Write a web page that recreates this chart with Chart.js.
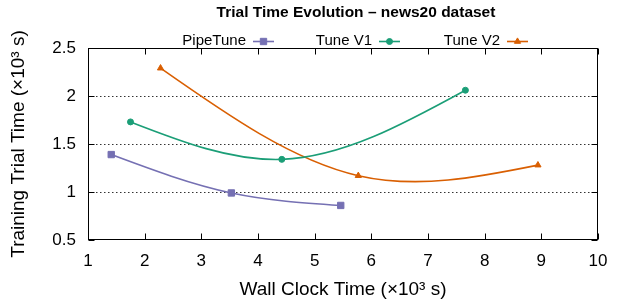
<!DOCTYPE html>
<html><head><meta charset="utf-8">
<script src="https://cdn.jsdelivr.net/npm/chart.js@4/dist/chart.umd.min.js"></script>
<style>html,body{margin:0;padding:0;background:#fff}#wrap{width:625px;height:304px}</style>
</head><body><div id="wrap"><canvas id="c" width="625" height="304"></canvas></div>
<script>
const seriesNames = ['PipeTune', 'Tune V1', 'Tune V2'];
const pipeTuneX = [1.41, 3.53, 5.46];
const pipeTuneY = [1.39, 0.99, 0.86];
const tuneV1X = [1.75, 4.42, 7.66];
const tuneV1Y = [1.73, 1.34, 2.06];
const tuneV2X = [2.28, 5.77, 8.94];
const tuneV2Y = [2.29, 1.17, 1.28];
const xTicks = [1, 2, 3, 4, 5, 6, 7, 8, 9, 10];
const yTicks = [0.5, 1, 1.5, 2, 2.5];
const yGrid = [1, 1.5, 2];
const titleText = 'Trial Time Evolution – news20 dataset';
const xTitle = 'Wall Clock Time (×10³ s)';
const yTitle = 'Training Trial Time (×10³ s)';

const colors = ['#7570b3', '#1b9e77', '#d95f02'];
const styles = [{pointStyle:'rect', r:4.5}, {pointStyle:'circle', r:3}, {pointStyle:'triangle', r:3.6}];
const FONT = "'Liberation Sans', Arial, Helvetica, sans-serif";

function pts(xs, ys) { return xs.map((x, i) => ({x: x, y: ys[i]})); }
const allX = [pipeTuneX, tuneV1X, tuneV2X];
const allY = [pipeTuneY, tuneV1Y, tuneV2Y];

const datasets = seriesNames.map((n, i) => ({
  label: n,
  data: pts(allX[i], allY[i]),
  showLine: true,
  borderColor: colors[i],
  backgroundColor: colors[i],
  borderWidth: 1.6,
  tension: 0.4,
  pointStyle: styles[i].pointStyle,
  pointRadius: styles[i].r,
  pointHoverRadius: styles[i].r,
  pointBorderWidth: 1,
  pointBorderColor: colors[i],
  pointBackgroundColor: colors[i]
}));

// Natural cubic spline (like gnuplot "smooth csplines") expressed as Bezier
// control points on the line element, computed from the scale pixel positions.
const naturalSpline = {
  id: 'naturalSpline',
  beforeDatasetDraw(chart, args) {
    const meta = args.meta;
    const p = meta.data;
    const n = p.length;
    if (n < 3) return;
    const x = p.map(e => e.x), y = p.map(e => e.y);
    const h = [];
    for (let i = 0; i < n - 1; i++) h.push(x[i + 1] - x[i]);
    // tridiagonal system for second derivatives M (M0 = Mn-1 = 0)
    const M = new Array(n).fill(0);
    const a = [], b = [], c = [], d = [];
    for (let i = 1; i < n - 1; i++) {
      a.push(h[i - 1]); b.push(2 * (h[i - 1] + h[i])); c.push(h[i]);
      d.push(6 * ((y[i + 1] - y[i]) / h[i] - (y[i] - y[i - 1]) / h[i - 1]));
    }
    const m = b.length;
    for (let i = 1; i < m; i++) {
      const w = a[i] / b[i - 1];
      b[i] -= w * c[i - 1];
      d[i] -= w * d[i - 1];
    }
    const sol = new Array(m);
    for (let i = m - 1; i >= 0; i--) sol[i] = (d[i] - (i < m - 1 ? c[i] * sol[i + 1] : 0)) / b[i];
    for (let i = 0; i < m; i++) M[i + 1] = sol[i];
    for (let i = 0; i < n - 1; i++) {
      const s = (y[i + 1] - y[i]) / h[i];
      const d0 = s - h[i] * (2 * M[i] + M[i + 1]) / 6;
      const d1 = s + h[i] * (M[i] + 2 * M[i + 1]) / 6;
      p[i].cp2x = x[i] + h[i] / 3; p[i].cp2y = y[i] + h[i] * d0 / 3;
      p[i + 1].cp1x = x[i + 1] - h[i] / 3; p[i + 1].cp1y = y[i + 1] - h[i] * d1 / 3;
    }
    p[0].cp1x = x[0]; p[0].cp1y = y[0];
    p[n - 1].cp2x = x[n - 1]; p[n - 1].cp2y = y[n - 1];
    meta.dataset._pointsUpdated = true;
    meta.dataset._path = undefined;
  }
};

const decor = {
  id: 'decor',
  beforeDatasetsDraw(chart) {
    const ctx = chart.ctx, a = chart.chartArea, ys = chart.scales.y;
    ctx.save();
    ctx.strokeStyle = '#333';
    ctx.lineWidth = 1;
    ctx.setLineDash([1.5, 2.5]);
    yGrid.forEach(v => {
      const py = Math.round(ys.getPixelForValue(v)) + 0.5;
      ctx.beginPath(); ctx.moveTo(a.left, py); ctx.lineTo(a.right, py); ctx.stroke();
    });
    ctx.restore();
  },
  afterDatasetsDraw(chart) {
    const ctx = chart.ctx, a = chart.chartArea, xs = chart.scales.x, ys = chart.scales.y;
    ctx.save();
    ctx.strokeStyle = '#000';
    ctx.lineWidth = 1;
    const L = Math.round(a.left) + 0.5, R = Math.round(a.right) - 0.5, T = Math.round(a.top) + 0.5, B = Math.round(a.bottom) - 0.5;
    ctx.strokeRect(L, T, R - L, B - T);
    const tl = 6;
    ctx.beginPath();
    xTicks.forEach(v => {
      const px = Math.round(xs.getPixelForValue(v)) + 0.5;
      ctx.moveTo(px, B); ctx.lineTo(px, B - tl);
      ctx.moveTo(px, T); ctx.lineTo(px, T + tl);
    });
    yTicks.forEach(v => {
      const py = Math.round(ys.getPixelForValue(v)) + 0.5;
      ctx.moveTo(L, py); ctx.lineTo(L + tl, py);
      ctx.moveTo(R, py); ctx.lineTo(R - tl, py);
    });
    ctx.stroke();
    ctx.restore();
  },
  afterDraw(chart) {
    const ctx = chart.ctx;
    ctx.save();
    ctx.fillStyle = '#000';
    ctx.font = 'bold 15.5px ' + FONT;
    ctx.textAlign = 'center';
    ctx.textBaseline = 'middle';
    ctx.fillText(titleText, 356, 13);
    // legend
    const textEnds = [246, 372, 500];
    const ly = 41;
    ctx.font = '15px ' + FONT;
    ctx.textAlign = 'right';
    seriesNames.forEach((n, i) => {
      ctx.fillStyle = '#000';
      ctx.fillText(n, textEnds[i], ly);
      const x0 = textEnds[i] + 7, x1 = x0 + 21;
      ctx.strokeStyle = colors[i];
      ctx.lineWidth = 1.6;
      ctx.beginPath(); ctx.moveTo(x0, ly + 0.5); ctx.lineTo(x1, ly + 0.5); ctx.stroke();
      ctx.fillStyle = colors[i];
      ctx.lineWidth = 1;
      Chart.helpers.drawPoint(ctx, {pointStyle: styles[i].pointStyle, radius: styles[i].r, borderWidth: 1}, (x0 + x1) / 2, ly + 0.5);
    });
    ctx.restore();
  }
};

new Chart(document.getElementById('c'), {
  type: 'scatter',
  data: { datasets: datasets },
  options: {
    responsive: false,
    devicePixelRatio: 1,
    animation: false,
    events: [],
    layout: { padding: { top: 48, right: 27, left: 0, bottom: 0 } },
    plugins: { legend: { display: false }, title: { display: false }, tooltip: { enabled: false } },
    scales: {
      x: {
        type: 'linear', min: 1, max: 10,
        afterBuildTicks: s => { s.ticks = xTicks.map(v => ({value: v})); },
        afterFit: s => { s.height = 64; },
        grid: { display: false, drawTicks: false },
        border: { display: false },
        ticks: { color: '#000', font: { family: FONT, size: 17 }, padding: 11, maxRotation: 0, autoSkip: false },
        title: { display: true, text: xTitle, color: '#000', font: { family: FONT, size: 19 }, padding: { top: 0, bottom: 3 } }
      },
      y: {
        type: 'linear', min: 0.5, max: 2.5,
        afterBuildTicks: s => { s.ticks = yTicks.map(v => ({value: v})); },
        afterFit: s => { s.width = 88; },
        grid: { display: false, drawTicks: false },
        border: { display: false },
        ticks: { color: '#000', font: { family: FONT, size: 17 }, padding: 12, autoSkip: false, callback: v => String(v) },
        title: { display: true, text: yTitle, color: '#000', font: { family: FONT, size: 19 }, padding: { top: 7, bottom: 0 } }
      }
    }
  },
  plugins: [naturalSpline, decor]
});
</script>
</body></html>
